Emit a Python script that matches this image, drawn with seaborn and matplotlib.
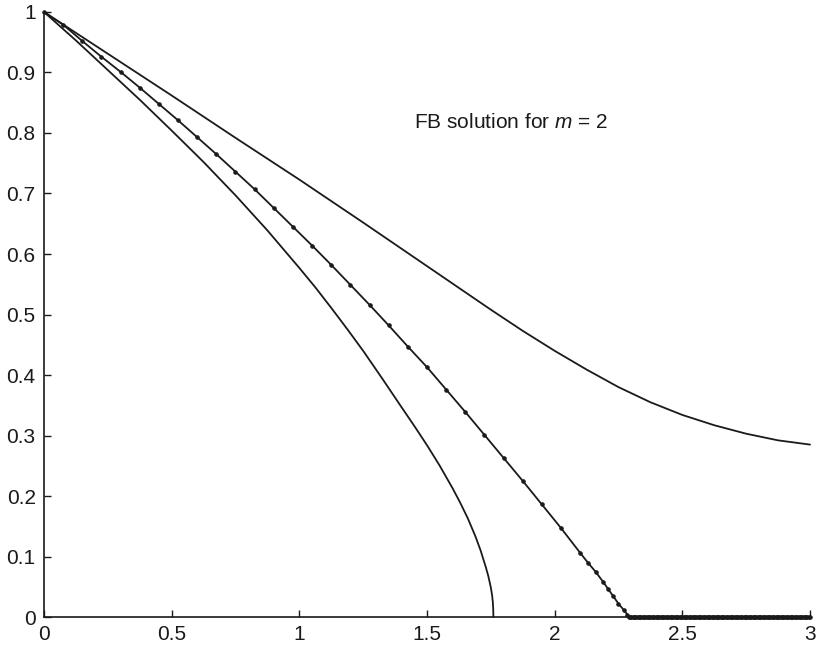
import numpy as np
import pandas as pd
import matplotlib
matplotlib.use("Agg")
import matplotlib.pyplot as plt
import seaborn as sns

# Upper curve
upper_x = [0.0, 0.25, 0.5, 0.75, 1.0, 1.25, 1.5, 1.625, 1.75, 1.875, 2.0, 2.125,
           2.25, 2.375, 2.5, 2.625, 2.75, 2.875, 3.0]
upper_y = [1.0, 0.931, 0.862, 0.792, 0.723, 0.652, 0.580, 0.544, 0.508, 0.473, 0.440, 0.409,
           0.380, 0.355, 0.334, 0.317, 0.303, 0.292, 0.285]

# Lower curve (vanishes near x = 1.76)
lower_x = [0.0, 0.125, 0.25, 0.375, 0.5, 0.625, 0.75, 0.875, 1.0, 1.0625, 1.125, 1.1875,
           1.25, 1.325, 1.40, 1.45, 1.50, 1.55, 1.60, 1.63, 1.66, 1.69, 1.71, 1.73, 1.74,
           1.75, 1.755, 1.758, 1.7595, 1.76]
lower_y = [1.0, 0.953, 0.904, 0.855, 0.804, 0.752, 0.697, 0.639, 0.577, 0.545, 0.511, 0.476,
           0.440, 0.394, 0.347, 0.316, 0.284, 0.250, 0.213, 0.189, 0.163, 0.133, 0.110,
           0.083, 0.068, 0.049, 0.036, 0.024, 0.012, 0.0]

# FB solution for m = 2 (sampled nodes)
fb_x = [0.0, 0.075, 0.15, 0.225, 0.30, 0.375, 0.45, 0.525, 0.60, 0.675, 0.75, 0.825,
        0.90, 0.975, 1.05, 1.125, 1.20, 1.275, 1.35, 1.425, 1.50, 1.575, 1.65, 1.725,
        1.80, 1.875, 1.95, 2.025, 2.10, 2.13, 2.16, 2.19, 2.21, 2.23, 2.25, 2.27,
        2.285, 2.29]
fb_y = [1.0, 0.979, 0.952, 0.926, 0.901, 0.875, 0.848, 0.821, 0.793, 0.765, 0.736, 0.707,
        0.676, 0.645, 0.614, 0.582, 0.549, 0.516, 0.482, 0.447, 0.413, 0.376, 0.339, 0.301,
        0.263, 0.225, 0.186, 0.147, 0.106, 0.090, 0.075, 0.058, 0.046, 0.034, 0.022, 0.012,
        0.004, 0.0]
# nodes beyond the free boundary, where the solution is zero
tail_x = np.round(np.arange(2.295, 3.0001, 0.005), 3)
tail_y = np.zeros_like(tail_x)

x_ticks = [0, 0.5, 1, 1.5, 2, 2.5, 3]
x_tick_labels = ["0", "0.5", "1", "1.5", "2", "2.5", "3"]
y_ticks = [0, 0.1, 0.2, 0.3, 0.4, 0.5, 0.6, 0.7, 0.8, 0.9, 1]
y_tick_labels = ["0", "0.1", "0.2", "0.3", "0.4", "0.5", "0.6", "0.7", "0.8", "0.9", "1"]

sns.set_style("ticks")
plt.rcParams["font.family"] = ["Liberation Sans", "DejaVu Sans"]
plt.rcParams["mathtext.fontset"] = "custom"
plt.rcParams["mathtext.rm"] = "Liberation Sans"
plt.rcParams["mathtext.it"] = "Liberation Sans:italic"

fig = plt.figure(figsize=(8.19, 6.48), dpi=100)
ax = fig.add_axes([0.0537, 0.0478, 0.9353, 0.9337])

line_color = "#1a1a1a"
lw = 1.3

upper = pd.DataFrame({"x": upper_x, "y": upper_y})
lower = pd.DataFrame({"x": lower_x, "y": lower_y})
fb = pd.DataFrame({"x": list(fb_x) + list(tail_x), "y": list(fb_y) + list(tail_y)})

sns.lineplot(data=upper, x="x", y="y", ax=ax, color=line_color, lw=lw,
             sort=False, estimator=None)
sns.lineplot(data=lower, x="x", y="y", ax=ax, color=line_color, lw=lw,
             sort=False, estimator=None)
sns.lineplot(data=fb, x="x", y="y", ax=ax, color=line_color, lw=lw,
             sort=False, estimator=None, marker="o", markersize=2.6,
             markeredgewidth=0.6, markeredgecolor=line_color,
             markerfacecolor=line_color)

ax.text(1.83, 0.818, "FB solution for $m$ = 2", fontsize=15, ha="center",
        va="center", color="#1a1a1a")

ax.set_xlim(0, 3)
ax.set_ylim(0, 1)
ax.set_xticks(x_ticks)
ax.set_xticklabels(x_tick_labels)
ax.set_yticks(y_ticks)
ax.set_yticklabels(y_tick_labels)
ax.set_xlabel("")
ax.set_ylabel("")
ax.tick_params(direction="in", length=5, width=1.0, labelsize=15, colors="#1a1a1a",
               pad=6)
for side in ("top", "right"):
    ax.spines[side].set_visible(False)
for side in ("left", "bottom"):
    ax.spines[side].set_linewidth(1.2)
    ax.spines[side].set_color("#1a1a1a")
    ax.spines[side].set_clip_on(False)
for artist in ax.lines:
    artist.set_clip_on(False)

fig.savefig("out.png", dpi=100)
